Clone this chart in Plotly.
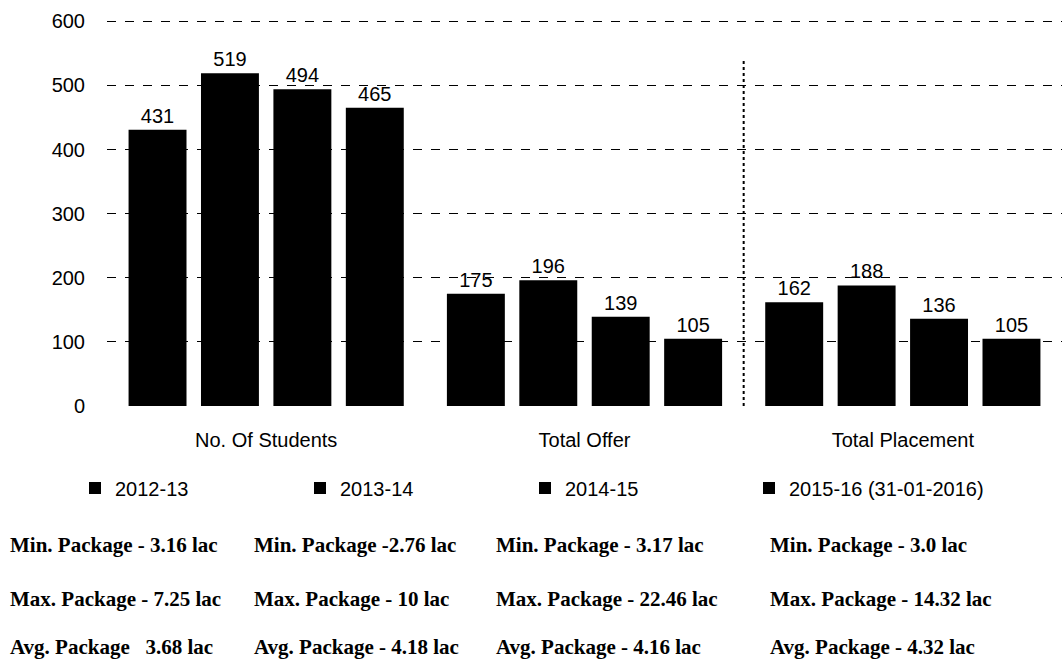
import plotly.graph_objects as go

categories = ["No. Of Students", "Total Offer", "Total Placement"]
series_names = ["2012-13", "2013-14", "2014-15", "2015-16 (31-01-2016)"]
vals_2012_13 = [431, 175, 162]
vals_2013_14 = [519, 196, 188]
vals_2014_15 = [494, 139, 136]
vals_2015_16 = [465, 105, 105]
y_ticks = [0, 100, 200, 300, 400, 500, 600]

package_text = [
    ["Min. Package - 3.16 lac", "Max. Package - 7.25 lac", "Avg. Package   3.68 lac"],
    ["Min. Package -2.76 lac", "Max. Package - 10 lac", "Avg. Package - 4.18 lac"],
    ["Min. Package - 3.17 lac", "Max. Package - 22.46 lac", "Avg. Package - 4.16 lac"],
    ["Min. Package - 3.0 lac", "Max. Package - 14.32 lac", "Avg. Package - 4.32 lac"],
]

W, H = 1062, 661
ML, MR, MT, MB = 107, 0, 20, 255
PW, PH = W - ML - MR, H - MT - MB

def px_x(p):
    return (p - ML) / PW

def px_y(p):
    return (H - MB - p) / PH

fig = go.Figure()
all_vals = [vals_2012_13, vals_2013_14, vals_2014_15, vals_2015_16]
legend_ids = ["legend", "legend", "legend", "legend2"]
for name, vals, lg in zip(series_names, all_vals, legend_ids):
    fig.add_trace(go.Bar(
        x=categories, y=vals, name=name, legend=lg,
        marker=dict(color="#000000", line=dict(width=0)),
        text=[str(v) for v in vals], textposition="outside",
        textfont=dict(family="Liberation Sans", size=20, color="#000"),
        cliponaxis=False,
    ))

# dotted separator between Total Offer and Total Placement
fig.add_shape(type="line", xref="x", yref="y", x0=1.5, x1=1.5, y0=0, y1=540,
              line=dict(color="#000", width=2, dash="dot"), layer="below")

col_x = [8, 252, 494, 768]
row_y = [545, 599, 647]
for cx, col in zip(col_x, package_text):
    for ry, t in zip(row_y, col):
        fig.add_annotation(text=t, xref="paper", yref="paper",
                           x=px_x(cx), y=px_y(ry), xanchor="left", yanchor="middle",
                           showarrow=False,
                           font=dict(family="Liberation Serif", size=21, color="#000",
                                     weight="bold"))

legend_font = dict(family="Liberation Sans", size=20, color="#000")
fig.update_layout(
    width=W, height=H,
    margin=dict(l=ML, r=MR, t=MT, b=MB, autoexpand=False),
    paper_bgcolor="white", plot_bgcolor="white",
    barmode="group", bargap=0.09, bargroupgap=0.2,
    showlegend=True,
    legend=dict(orientation="h", x=px_x(75), y=px_y(488), xanchor="left", yanchor="middle",
                entrywidth=180, entrywidthmode="pixels",
                font=legend_font, itemwidth=30, traceorder="normal"),
    legend2=dict(orientation="h", x=px_x(749), y=px_y(488), xanchor="left", yanchor="middle",
                 font=legend_font, itemwidth=30),
    font=dict(family="Liberation Sans", color="#000"),
)
fig.update_xaxes(showline=False, ticks="", tickfont=dict(size=20, color="#000"),
                 ticklabelstandoff=20, automargin=False)
fig.update_yaxes(range=[0, 602], tickvals=y_ticks, showline=False, zeroline=False,
                 showgrid=True, gridcolor="#000", griddash="dash", gridwidth=1,
                 tickfont=dict(size=20, color="#000"), ticklabelstandoff=21,
                 automargin=False)

fig.write_html("out.html", config={"displayModeBar": False},
               post_script="document.body.style.margin='0';document.body.style.overflow='hidden';")
